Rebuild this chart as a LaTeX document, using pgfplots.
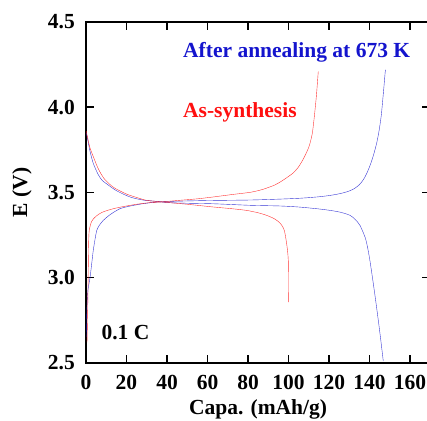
\documentclass[border=0pt]{standalone}
\usepackage{fontspec}
\setmainfont{Liberation Serif}
\usepackage{pgfplots}
\pgfplotsset{compat=1.18}
\definecolor{cblue}{RGB}{20,20,205}
\definecolor{cred}{RGB}{255,15,15}
\newcommand{\myfont}{\fontsize{21.5bp}{24bp}\selectfont\bfseries}
\begin{document}
\begin{tikzpicture}
\begin{axis}[
  scale only axis, width=344.25bp, height=340.7bp,
  xmin=0, xmax=170, ymin=2.5, ymax=4.5,
  xtick={0,20,40,60,80,100,120,140,160},
  xticklabels={0,20,40,60,80,100,120,140,160},
  ytick={2.5,3.0,3.5,4.0,4.5},
  yticklabels={2.5,3.0,3.5,4.0,4.5},
  tick align=inside, major tick length=8bp,
  axis line style={line width=1.6bp},
  every tick/.style={black, line width=1.6bp},
  tick label style={font=\myfont, inner sep=0pt},
  xticklabel style={anchor=north, yshift=-12bp},
  yticklabel style={anchor=east, xshift=-11bp},
  every axis x label/.style={at={(axis description cs:0.5,-0.108)}, anchor=north, inner sep=0pt, font=\myfont},
  every axis y label/.style={at={(axis description cs:-0.186,0.5)}, rotate=90, anchor=center, inner sep=0pt, font=\myfont},
  xlabel={Capa. (mAh/g)},
  ylabel={E (V)},
  clip=true,
  curve/.style={line width=0.4bp, smooth, tension=0.45, opacity=0.85},
]
% blue charge
\addplot[cblue, curve] coordinates {
(0.1,2.65) (0.3,2.77) (0.6,2.86) (1,2.93) (2,3.0) (3,3.1) (3.6,3.16) (4.4,3.22) (5.3,3.276) (6.5,3.305) (8.5,3.335) (12,3.37) (16.8,3.404) (22,3.42) (28,3.433) (35,3.443) (45,3.448) (60,3.452) (81,3.455) (95,3.46) (105,3.465) (110,3.469) (115,3.474) (120,3.481) (124,3.489) (127,3.497) (130,3.508) (132.5,3.522) (135,3.545) (137,3.575) (138.6,3.61) (140.5,3.665) (142,3.72) (143.5,3.787) (144.7,3.86) (145.8,3.95) (146.6,4.05) (147.2,4.13) (147.7,4.2) (147.9,4.22)
};
% blue discharge
\addplot[cblue, curve] coordinates {
(0.1,3.85) (1,3.80) (2,3.74) (3.6,3.67) (6,3.605) (8,3.57) (10.2,3.55) (15,3.51) (21.7,3.473) (28,3.455) (35,3.447) (40,3.44) (50,3.436) (62.9,3.433) (81,3.424) (95.8,3.42) (105,3.414) (113.9,3.404) (120,3.395) (125.4,3.384) (130.4,3.365) (133,3.34) (135.3,3.306) (137.8,3.237) (139,3.18) (140.2,3.1) (141.9,2.963) (143.5,2.825) (145.2,2.669) (146.8,2.51)
};
% red charge
\addplot[cred, curve] coordinates {
(0.5,2.62) (0.8,2.78) (1.1,3.03) (1.3,3.2) (1.6,3.276) (2.8,3.33) (5,3.36) (8,3.383) (13.5,3.404) (20,3.42) (26.7,3.433) (32,3.44) (36.5,3.443) (45,3.452) (55,3.462) (62.9,3.473) (72,3.487) (81,3.50) (86,3.513) (89.2,3.525) (93,3.542) (95.8,3.56) (99,3.585) (102.4,3.615) (105,3.65) (107.5,3.70) (109.5,3.75) (110.6,3.787) (111.8,3.85) (112.8,3.95) (113.8,4.07) (114.7,4.21)
};
% red discharge
\addplot[cred, curve] coordinates {
(0.1,3.86) (1,3.81) (2,3.76) (3.6,3.71) (6,3.64) (9,3.58) (13.5,3.53) (20,3.49) (25,3.47) (30,3.453) (38,3.443) (50,3.43) (62.9,3.414) (72,3.404) (79.3,3.394) (85,3.38) (89.2,3.365) (93,3.345) (95.8,3.32) (97.5,3.29) (98.3,3.257) (99.3,3.18) (99.9,3.1) (100,2.96) (100.05,2.855)
};
\node[anchor=base west, inner sep=0pt, font=\myfont, text=cblue] at (axis cs:47.9,4.292) {After annealing at 673 K};
\node[anchor=base west, inner sep=0pt, font=\myfont, text=cred] at (axis cs:47.9,3.938) {As-synthesis};
\node[anchor=base west, inner sep=0pt, font=\myfont, text=black] at (axis cs:7.6,2.639) {0.1 C};
\end{axis}
\pgfresetboundingbox
\path[use as bounding box] (-86bp,-58.3bp) rectangle (341bp,362.7bp);
\end{tikzpicture}
\end{document}
